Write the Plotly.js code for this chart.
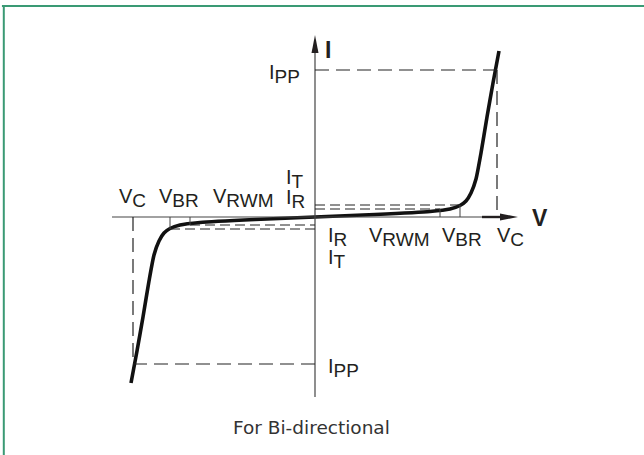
<!DOCTYPE html>
<html>
<head>
<meta charset="utf-8">
<script src="https://cdn.plot.ly/plotly-3.0.1.min.js"></script>
<style>
  html, body { margin: 0; padding: 0; background: #fff; }
  #chart { width: 644px; height: 455px; }
</style>
</head>
<body>
<div id="chart"></div>
<script>
// V-I characteristic of a bi-directional TVS diode (arbitrary units)
var curveV = [-184, -178, -172, -166, -161, -156, -151, -145, -135, -115, -60, 0, 60, 115, 135, 145, 151, 156, 161, 166, 172, 178, 184];
var curveI = [-166, -134, -100, -64, -38, -24, -16, -11.5, -8, -5.5, -2.5, 0, 2.5, 5.5, 8, 11.5, 16, 24, 38, 64, 100, 134, 166];

// marked voltages / currents (same on both sides of the origin)
var V_C = 182, V_BR = 145, V_RWM = 125;
var I_PP = 147, I_T = 12, I_R = 8;

// axis extents
var axisV = [-203, 203];
var axisI = [-180, 182];

var ink = '#231f20';
var dashCol = '#222222';
var fontFam = 'Liberation Sans, Arial, sans-serif';

var shapes = [];
function seg(x0, y0, x1, y1, color, width, dash) {
  shapes.push({ type: 'line', xref: 'x', yref: 'y', x0: x0, y0: y0, x1: x1, y1: y1,
    line: { color: color, width: width, dash: dash || 'solid' } });
}

// axes
seg(axisV[0], 0, axisV[1] - 10, 0, '#444', 1.2);
seg(0, axisI[0], 0, axisI[1] - 10, '#444', 1.2);
seg(axisV[1] - 36, 0, axisV[1] - 16, 0, ink, 2.4);
shapes.push({ type: 'path', xref: 'x', yref: 'y', fillcolor: ink, line: { width: 0 },
  path: 'M' + axisV[1] + ',0 L' + (axisV[1] - 18) + ',3.5 L' + (axisV[1] - 18) + ',-3.5 Z' });
shapes.push({ type: 'path', xref: 'x', yref: 'y', fillcolor: ink, line: { width: 0 },
  path: 'M0,' + axisI[1] + ' L3.5,' + (axisI[1] - 18) + ' L-3.5,' + (axisI[1] - 18) + ' Z' });

// I_PP / V_C guides
var longDash = '14px,7px';
seg(0, I_PP, V_C, I_PP, dashCol, 1.2, longDash);
seg(V_C, I_PP, V_C, 0, dashCol, 1.2, longDash);
seg(-V_C, -I_PP, 0, -I_PP, dashCol, 1.2, longDash);
seg(-V_C, 0, -V_C, -I_PP, dashCol, 1.2, longDash);

// I_T / I_R guides
var shortDash = '10px,5px';
seg(0, I_T, V_BR, I_T, dashCol, 1.1, shortDash);
seg(0, I_R, V_RWM, I_R, dashCol, 1.1, shortDash);
seg(-V_BR, -I_T, 0, -I_T, dashCol, 1.1, shortDash);
seg(-V_RWM, -I_R, 0, -I_R, dashCol, 1.1, shortDash);
// small solid ticks at V_BR and V_RWM
seg(V_BR, 0, V_BR, I_T, '#444', 1);
seg(V_RWM, 0, V_RWM, I_R, '#444', 1);
seg(-V_BR, 0, -V_BR, -I_T, '#444', 1);
seg(-V_RWM, 0, -V_RWM, -I_R, '#444', 1);

// green frame (top and left)
shapes.push({ type: 'line', xref: 'paper', yref: 'paper', x0: 0.003, x1: 1, y0: 1 - 6 / 455, y1: 1 - 6 / 455,
  line: { color: '#3a9a74', width: 2 } });
shapes.push({ type: 'line', xref: 'paper', yref: 'paper', x0: 3.8 / 644, x1: 3.8 / 644, y0: 0, y1: 1 - 5 / 455,
  line: { color: '#3a9a74', width: 2 } });

// labels (subscripts drawn almost full size, as in the drawing)
var annotations = [];
function sub(main, s) {
  return main + '<sub><span style="font-size:19px">' + s + '</span></sub>';
}
function label(text, x, y, font) {
  annotations.push({ x: x, y: y, xref: 'x', yref: 'y', text: text, showarrow: false,
    xanchor: 'center', yanchor: 'middle',
    font: font || { family: fontFam, size: 20, color: ink } });
}
var boldFont = { family: fontFam, size: 23, color: ink, weight: 'bold' };

label(sub('V', 'C'), -183, 19);
label(sub('V', 'BR'), -136, 19);
label(sub('V', 'RWM'), -72, 19);
label(sub('I', 'R'), -20, 18);
label(sub('I', 'T'), -20, 38);
label(sub('I', 'PP'), -31, 143.5);

label(sub('I', 'R'), 22, -20);
label(sub('I', 'T'), 22, -41.5);
label(sub('V', 'RWM'), 84, -20);
label(sub('V', 'BR'), 147, -20);
label(sub('V', 'C'), 195, -20);
label(sub('I', 'PP'), 28, -150.5);

label('<b>V</b>', 225, -1, boldFont);
label('<b>I</b>', 13, 167, boldFont);

label('For Bi-directional', -4, -210, { family: 'DejaVu Sans, sans-serif', size: 18.5, color: '#333' });

var trace = {
  x: curveV,
  y: curveI,
  mode: 'lines',
  line: { color: '#111', width: 3.6, shape: 'spline', smoothing: 0.6 },
  hoverinfo: 'skip'
};

var layout = {
  width: 644,
  height: 455,
  margin: { l: 0, r: 0, t: 0, b: 0 },
  paper_bgcolor: '#fff',
  plot_bgcolor: '#fff',
  showlegend: false,
  xaxis: { range: [-315, 329], visible: false, fixedrange: true },
  yaxis: { range: [-238, 217], visible: false, fixedrange: true },
  shapes: shapes,
  annotations: annotations
};

Plotly.newPlot('chart', [trace], layout, { displayModeBar: false, staticPlot: true });
</script>
</body>
</html>
